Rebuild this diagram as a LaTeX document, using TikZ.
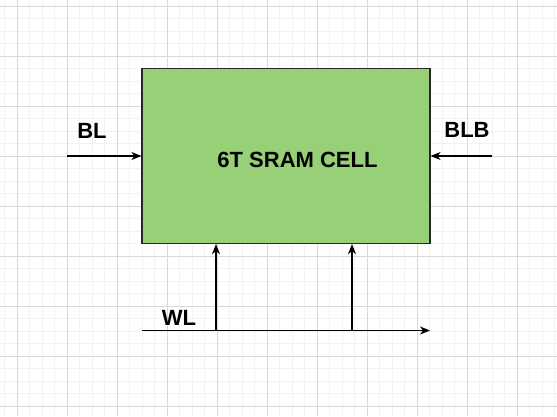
\documentclass[tikz,border=0pt]{standalone}
\usepackage{fontspec}
\setmainfont{Liberation Sans}
\usetikzlibrary{arrows.meta}
\definecolor{cellgreen}{HTML}{97D077}
\definecolor{gridminor}{HTML}{F2F2F2}
\definecolor{gridmajor}{HTML}{D9D9D9}
\tikzset{
  wire/.style={line width=1.2pt,-{Stealth[length=10pt,width=8pt,inset=3pt]}},
  lbl/.style={font=\fontsize{22}{26}\selectfont\bfseries,inner sep=0pt},
  cellbox/.style={draw=black!85,fill=cellgreen,line width=1.2pt,minimum width=288pt,minimum height=175pt,inner sep=0pt},
}
\begin{document}
\begin{tikzpicture}[x=1pt,y=-1pt]
\useasboundingbox (0,0) rectangle (557,416);

% background grid
\foreach \x in {4.5,17,...,557} \draw[gridminor,line width=0.8pt] (\x,0) -- (\x,416);
\foreach \y in {6,18.5,...,416} \draw[gridminor,line width=0.8pt] (0,\y) -- (557,\y);
\foreach \x in {17,67,...,557} \draw[gridmajor,line width=0.8pt] (\x,0) -- (\x,416);
\foreach \y in {6,56,...,416} \draw[gridmajor,line width=0.8pt] (0,\y) -- (557,\y);

% cell
\node[cellbox] (cell) at (286,156) {};
\node[lbl] (title) at (297.5,160) {6T SRAM CELL};

% bit lines
\coordinate (blin) at (67,156);
\coordinate (blbin) at (492,156);
\draw[wire] (blin) -- (cell.west);
\draw[wire] (blbin) -- (cell.east);
\node[lbl] (bl) at (92,131) {BL};
\node[lbl] (blb) at (467,130) {BLB};

% word line
\coordinate (wls) at (142,330.5);
\coordinate (wle) at (430,330.5);
\coordinate (tapl) at (216,330.5);
\coordinate (tapr) at (352,330.5);
\draw[wire] (wls) -- (wle);
\draw[wire] (tapl) -- (tapl |- cell.south);
\draw[wire] (tapr) -- (tapr |- cell.south);
\node[lbl] (wl) at (179,318) {WL};
\end{tikzpicture}
\end{document}
